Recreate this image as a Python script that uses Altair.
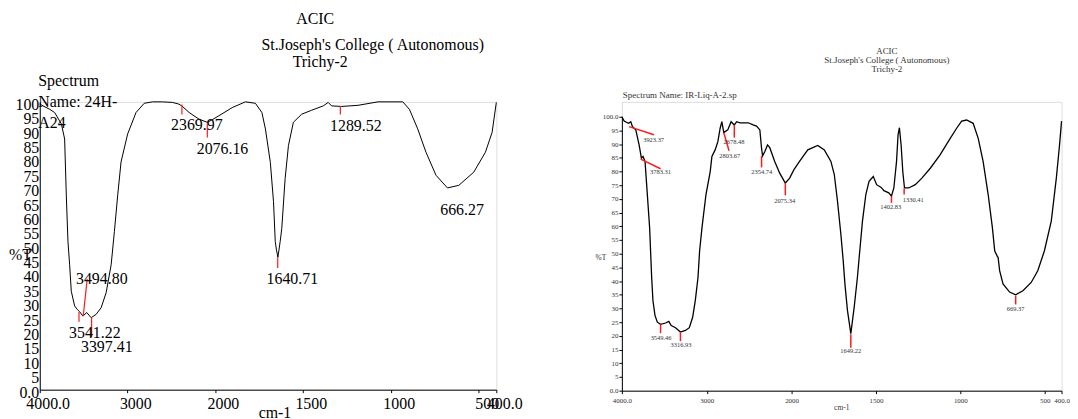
import altair as alt
import pandas as pd

FONT = "Liberation Serif"

# ---------------- Left spectrum (24H-A24) ----------------
left_wn = [4000, 3886, 3830, 3753, 3716, 3697, 3678, 3659, 3640, 3602, 3570, 3545, 3508, 3463,
           3413, 3356, 3299, 3242, 3185, 3148, 3110, 3072, 2997, 2901, 2807, 2712, 2600, 2485,
           2420, 2378, 2295, 2182, 2088, 2030, 1977, 1902, 1827, 1770, 1733, 1713, 1685, 1667,
           1657, 1650, 1642, 1629, 1620, 1601, 1582, 1554, 1507, 1450, 1384, 1356, 1337, 1280,
           1186, 1073, 932, 894, 847, 800, 743, 678, 613, 528, 462, 424, 400]
left_t = [99.2, 97.4, 96.3, 92.3, 87.1, 67.6, 51.5, 43.4, 34.2, 29.1, 27.8, 27.1, 25.6, 26.8,
          25.0, 26.2, 28.5, 33.7, 43.4, 54.9, 67.6, 79.1, 88.8, 96.3, 99.5, 100.0, 100.0, 99.8,
          99.3, 98.6, 96.3, 94.0, 92.9, 93.8, 95.2, 98.0, 100.0, 99.5, 96.3, 90.6, 79.0, 65.3,
          51.5, 48.5, 46.0, 51.5, 56.0, 73.3, 84.8, 92.9, 95.7, 97.1, 98.6, 99.8, 98.6, 98.4,
          98.8, 100.0, 100.0, 97.4, 90.6, 82.5, 74.5, 70.1, 71.0, 75.6, 82.5, 89.4, 99.8]

left_labels = ["3494.80", "3541.22", "3397.41", "2369.97", "2076.16", "1640.71", "1289.52", "666.27"]
left_label_wn = [3292, 3371, 3235, 2207, 1957, 1560, 1199, 595]
left_label_t = [38.3, 19.7, 14.8, 92.0, 83.7, 38.3, 91.7, 62.4]

left_mk_wn = [3552, 3504, 3408, 2377, 2087, 1643, 1287]
left_mk_t = [27.0, 25.5, 25.1, 99.1, 92.5, 46.0, 98.6]
left_mk_wn2 = [3552, 3458, 3408, 2377, 2087, 1643, 1287]
left_mk_t2 = [23.6, 38.5, 18.2, 95.6, 87.6, 42.3, 95.6]

# ---------------- Right spectrum (IR-Liq-A-2) ----------------
right_wn = [4000, 3973, 3922, 3895, 3875, 3836, 3797, 3770, 3751, 3727, 3700, 3673, 3657, 3649,
            3634, 3610, 3582, 3544, 3485, 3447, 3419, 3368, 3310, 3251, 3205, 3166, 3135, 3103,
            3084, 3056, 3009, 2959, 2939, 2901, 2869, 2842, 2822, 2799, 2752, 2713, 2675, 2647,
            2608, 2511, 2453, 2413, 2374, 2354, 2342, 2315, 2284, 2257, 2199, 2140, 2074, 2023,
            1986, 1953, 1904, 1845, 1806, 1767, 1747, 1728, 1708, 1694, 1684, 1669, 1649, 1629,
            1610, 1596, 1580, 1560, 1541, 1516, 1496, 1469, 1453, 1424, 1408, 1394, 1378, 1369,
            1361, 1351, 1341, 1331, 1306, 1267, 1228, 1178, 1120, 1071, 1022, 992, 963, 924, 894,
            865, 835, 810, 796, 782, 776, 767, 747, 708, 672, 629, 580, 541, 502, 461, 431, 412, 400]
right_t = [100.0, 98.4, 97.6, 98.2, 96.4, 95.2, 89.7, 84.9, 85.5, 83.7, 71.6, 59.5, 47.4, 41.3,
           32.9, 27.5, 25.0, 24.2, 24.7, 25.3, 23.8, 23.0, 21.4, 22.0, 23.0, 26.8, 32.9, 41.3,
           51.0, 59.5, 71.6, 80.0, 85.5, 87.9, 90.9, 95.8, 98.2, 94.2, 95.2, 98.2, 97.0, 98.2,
           97.8, 97.8, 97.0, 96.6, 95.2, 88.5, 85.7, 87.3, 89.7, 88.7, 83.7, 79.4, 75.8, 77.6,
           80.7, 83.7, 87.9, 89.5, 87.9, 83.7, 78.9, 69.2, 57.1, 47.4, 39.0, 29.3, 20.8, 30.5,
           41.3, 51.0, 61.9, 71.6, 76.4, 78.2, 75.2, 74.2, 73.0, 72.2, 71.0, 74.0, 83.7, 93.4,
           96.0, 89.7, 80.0, 74.0, 74.0, 75.2, 77.6, 81.2, 86.1, 91.0, 95.8, 98.4, 98.8, 97.6, 92.1,
           83.7, 71.6, 59.5, 51.0, 49.2, 48.6, 43.8, 39.0, 36.0, 35.0, 36.5, 39.5, 43.8, 51.0, 61.9,
           77.6, 89.7, 98.4]

right_labels = ["3923.37", "3783.31", "2803.67", "2678.48", "2354.74", "2075.34", "1402.83",
                "1330.41", "3549.46", "3316.93", "1649.22", "669.37"]
right_label_wn = [3626, 3544, 2729, 2678, 2351, 2082, 1412, 1279, 3538, 3304, 1649, 672]
right_label_t = [91.5, 79.7, 85.8, 90.7, 80.0, 69.4, 67.1, 69.5, 19.4, 16.6, 14.5, 29.9]

right_mk_wn = [3915, 3778, 2799, 2675, 2354, 2074, 1408, 1333, 3544, 3310, 1649, 672]
right_mk_t = [96.4, 84.5, 94.2, 97.0, 85.7, 75.8, 71.0, 73.8, 24.2, 21.4, 20.6, 34.7]
right_mk_wn2 = [3622, 3544, 2737, 2675, 2354, 2074, 1408, 1333, 3544, 3310, 1649, 672]
right_mk_t2 = [93.4, 81.0, 87.6, 92.4, 81.5, 71.3, 68.6, 71.6, 21.0, 18.1, 15.7, 31.5]

x_ticks = [4000, 3000, 2000, 1500, 1000, 500, 400]
y_ticks = list(range(0, 101, 5))
x_label_expr = "datum.value==4000?'4000.0':datum.value==400?'400.0':datum.label"


def text_at(s, x, y, size, align="center", color="black"):
    return alt.Chart(pd.DataFrame({"s": [s]})).mark_text(
        font=FONT, fontSize=size, align=align, baseline="middle", color=color
    ).encode(text="s:N", x=alt.value(x), y=alt.value(y))


def panel(wn, t, labs, lwn, lt, mwn, mt, mwn2, mt2, width, height, xrange, yrange,
          xaxis, yaxis, line_w, lab_size, lab_color, mk_w, extras):
    curve = pd.DataFrame({"wn": wn, "t": t, "i": range(len(wn))})
    ldf = pd.DataFrame({"wn": lwn, "t": lt, "lab": labs})
    mdf = pd.DataFrame({"wn": mwn, "t": mt, "wn2": mwn2, "t2": mt2})
    xs = alt.Scale(domain=[4000, 2000, 400], range=xrange, nice=False, zero=False)
    ys = alt.Scale(domain=[0, 100], range=yrange, nice=False, zero=False)
    xe = alt.X("wn:Q", scale=xs, axis=xaxis)
    ye = alt.Y("t:Q", scale=ys, axis=yaxis)
    line = alt.Chart(curve).mark_line(color="black", strokeWidth=line_w).encode(
        x=xe, y=ye, order="i:Q")
    marks = alt.Chart(mdf).mark_rule(color="#ff1a1a", strokeWidth=mk_w).encode(
        x=xe, y=ye, x2="wn2:Q", y2="t2:Q")
    labels = alt.Chart(ldf).mark_text(
        font=FONT, fontSize=lab_size, color=lab_color, align="center", baseline="middle"
    ).encode(x=xe, y=ye, text="lab:N")
    return alt.layer(line, marks, labels, *extras).properties(width=width, height=height)


left_x_axis = alt.Axis(values=x_ticks, format="d", labelExpr=x_label_expr, grid=False,
                       tickSize=3, tickColor="black", domainColor="black",
                       labelFont=FONT, labelFontSize=16, labelColor="black",
                       labelAlign="center", labelBaseline="top", labelPadding=3,
                       labelOffset=8, labelFlush=False, labelOverlap=False,
                       title="cm-1", titleFont=FONT, titleFontSize=16, titleFontWeight="normal",
                       titleColor="black", titleX=236.5, titleY=23, titleAlign="center",
                       titleBaseline="middle")
left_y_axis = alt.Axis(values=y_ticks, format="d",
                       labelExpr="datum.value==0?'0.0':datum.label", grid=False,
                       ticks=False, domainColor="black",
                       labelFont=FONT, labelFontSize=16, labelColor="black",
                       labelPadding=1, labelOffset=2.5, labelFlush=False, labelOverlap=False,
                       title="%T", titleFont=FONT, titleFontSize=16, titleFontWeight="normal",
                       titleColor="black", titleAngle=0, titleX=-31.5, titleY=154,
                       titleAlign="left", titleBaseline="middle")

right_x_axis = alt.Axis(values=x_ticks, format="d", labelExpr=x_label_expr, grid=False,
                        tickSize=3, tickColor="black", domainColor="black",
                        labelFont=FONT, labelFontSize=7, labelColor="#333333",
                        labelAlign="center", labelBaseline="top", labelPadding=3,
                        labelFlush=False, labelOverlap=False,
                        title="cm-1", titleFont=FONT, titleFontSize=7.5, titleFontWeight="normal",
                        titleColor="#333333", titleX=221, titleY=17, titleAlign="center",
                        titleBaseline="middle")
right_y_axis = alt.Axis(values=y_ticks, format="d",
                        labelExpr="datum.value==0?'0.0':datum.value==100?'100.0':datum.label",
                        grid=False, tickSize=3, tickColor="black", domainColor="black",
                        labelFont=FONT, labelFontSize=7, labelColor="#333333",
                        labelPadding=1, labelFlush=False, labelOverlap=False,
                        title="%T", titleFont=FONT, titleFontSize=7.5, titleFontWeight="normal",
                        titleColor="#333333", titleAngle=0, titleX=-27, titleY=157,
                        titleAlign="left", titleBaseline="middle")

left_extras = [
    text_at("ACIC", 277.5, -83, 16),
    text_at("St.Joseph's College ( Autonomous)", 335.5, -57, 16),
    text_at("Trichy-2", 282.5, -40, 16),
    text_at("Spectrum", -1.5, -21, 16, align="left"),
    text_at("Name: 24H-", -1.5, 0, 16, align="left"),
    text_at("A24", -1.5, 21, 16, align="left"),
]
right_extras = [
    text_at("ACIC", 267, -51, 9, color="#333333"),
    text_at("St.Joseph's College ( Autonomous)", 267, -42, 9, color="#333333"),
    text_at("Trichy-2", 267, -33, 9, color="#333333"),
    text_at("Spectrum Name: IR-Liq-A-2.sp", 1, -7, 9, align="left", color="#333333"),
]

left = panel(left_wn, left_t, left_labels, left_label_wn, left_label_t,
             left_mk_wn, left_mk_t, left_mk_wn2, left_mk_t2,
             460, 290, [0, 176.5, 460], [290, 0], left_x_axis, left_y_axis,
             1.0, 16, "black", 1.2, left_extras)
right = panel(right_wn, right_t, right_labels, right_label_wn, right_label_t,
              right_mk_wn, right_mk_t, right_mk_wn2, right_mk_t2,
              443, 291, [0, 171, 443], [291, 15], right_x_axis, right_y_axis,
              1.3, 6.5, "#333333", 1.5, right_extras)

chart = alt.hconcat(left, right, spacing=126.5, bounds="flush").properties(
    padding={"left": 0, "top": 1, "right": 0, "bottom": 0}
).configure_view(stroke=None).configure(background="white")

chart.save("out.html", embed_options={"renderer": "svg", "actions": False})
